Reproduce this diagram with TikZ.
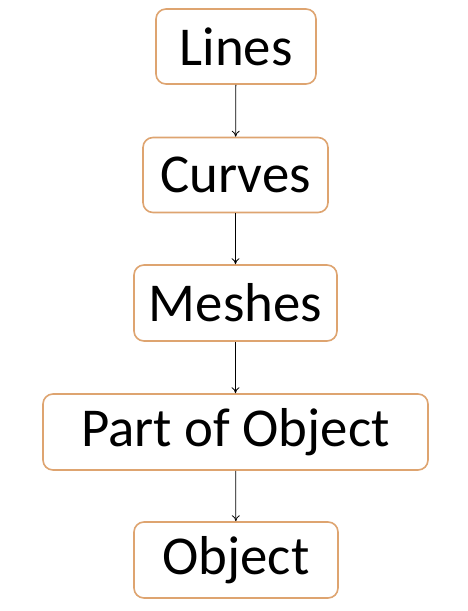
\documentclass[tikz,border=0pt]{standalone}
\usepackage{fontspec}
\setmainfont{Carlito}
\usetikzlibrary{arrows.meta}
\definecolor{boxedge}{RGB}{222,164,112}
\begin{document}
\begin{tikzpicture}[x=1bp,y=-1bp,
  box/.style={draw=boxedge,line width=1.6bp,rounded corners=10bp,fill=white,inner sep=0pt,font=\fontsize{55}{60}\selectfont},
  conn/.style={-{To[length=6bp,width=8bp]},line width=0.8bp}]
\useasboundingbox (0,0) rectangle (468,611);
\node[box,minimum width=160bp,minimum height=75bp] (lines) at (236,46.5) {Lines};
\node[box,minimum width=185bp,minimum height=75bp] (curves) at (235.5,175) {Curves};
\node[box,minimum width=203bp,minimum height=76bp] (meshes) at (235.5,303) {Meshes};
\node[box,minimum width=385bp,minimum height=76bp] (part) at (235.5,432) {Part of Object};
\node[box,minimum width=204bp,minimum height=76bp] (object) at (236,560) {Object};
\draw[conn] (lines) -- (curves);
\draw[conn] (curves) -- (meshes);
\draw[conn] (meshes) -- (part);
\draw[conn] (part) -- (object);
\end{tikzpicture}
\end{document}
